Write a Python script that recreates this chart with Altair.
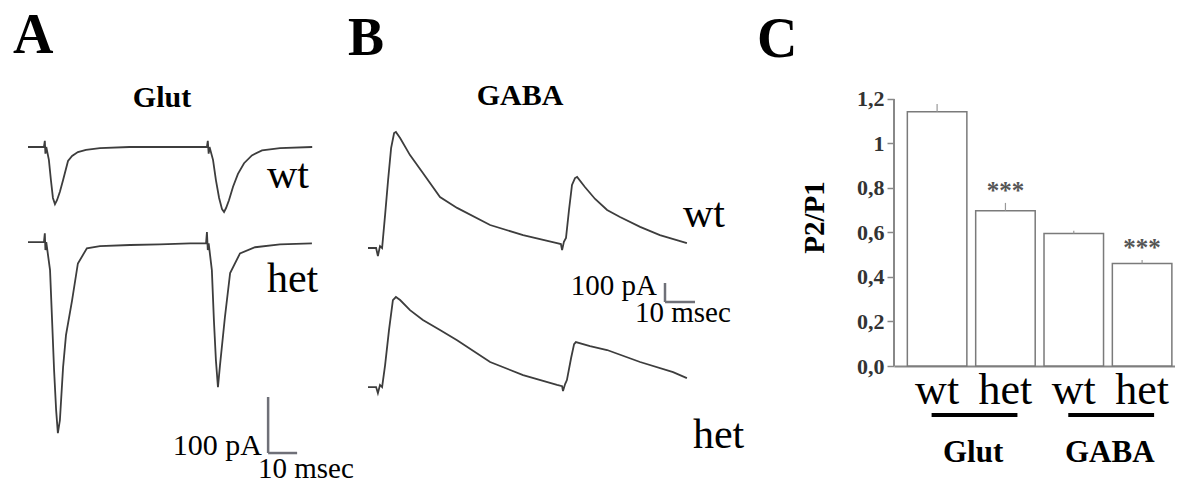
import altair as alt
import pandas as pd

SERIF = "Liberation Serif"
TRACE_COLOR = "#3d3d3d"
BAR_GREY = "#7a7a7a"

# ---------------- Panel A : Glut paired-pulse currents (time ms, current pA)
A_WT_T = [0, 5.5, 5.8, 6.0, 6.3, 7.2, 7.9, 8.6, 9.3, 10.0, 11.0, 12.1, 13.8, 15.2, 17.2,
          20.0, 24.8, 35.0, 45.0, 56.0, 61.7, 62.0, 62.3, 62.6, 63.8, 64.8, 65.9, 66.9,
          67.6, 68.3, 69.3, 70.7, 72.4, 74.5, 77.2, 80.7, 86.9, 98.0]
A_WT_I = [0, 0, 11, -12, 0, -23, -59, -91, -102, -95, -80, -59, -25, -16, -9,
          -5, -2, 0, 0, 0, 0, 11, -12, 0, -23, -59, -91, -111,
          -116, -109, -95, -71, -48, -29, -15, -6, -2, 0]
A_HET_T = [0, 5.5, 5.8, 6.0, 6.3, 7.6, 8.3, 9.0, 9.7, 10.3, 11.0, 12.1, 13.1, 15.2, 17.2,
           20.3, 24.8, 35.2, 45.5, 55.9, 61.4, 61.7, 62.0, 62.3, 63.4, 64.1, 64.8, 65.5,
           66.2, 67.9, 69.7, 73.1, 78.3, 86.9, 97.9]
A_HET_I = [0, 0, 16, -14, 0, -50, -139, -229, -300, -341, -318, -223, -166, -104, -38,
           -11, -7, -5, -4, -2, -2, 18, -14, -2, -50, -139, -211, -259,
           -220, -134, -55, -20, -9, -4, -2]

# ---------------- Panel B : GABA paired-pulse currents (time ms, current pA)
B_WT_T = [0, 2.7, 3.3, 4.0, 4.7, 5.7, 6.7, 7.7, 8.7, 9.3, 10.7, 14.0, 18.3, 24.0, 29.7,
          40.7, 51.7, 63.0, 64.3, 64.7, 65.3, 66.0, 67.0, 68.0, 69.0, 69.7, 72.3, 75.7,
          79.7, 84.0, 90.7, 97.3, 106.3]
B_WT_I = [0, 0, -42, 10, 0, 174, 358, 526, 605, 611, 579, 489, 395, 268, 211,
          121, 68, 26, 21, -11, 32, 53, 200, 332, 368, 374, 321, 258,
          200, 163, 111, 68, 26]
B_HET_T = [0, 2.7, 3.3, 4.0, 4.7, 5.7, 7.0, 8.3, 9.3, 10.7, 14.0, 18.3, 24.0, 29.7, 40.7,
           51.7, 63.0, 64.7, 65.0, 65.7, 66.3, 67.7, 68.7, 69.3, 74.0, 79.7, 90.7, 101.7,
           106.3]
B_HET_I = [0, 0, -32, 11, 0, 116, 300, 458, 474, 458, 405, 353, 300, 247, 132,
           63, 11, 5, -21, 16, 37, 153, 226, 237, 216, 195, 132, 79,
           47]

# ---------------- Panel C : paired-pulse ratio
C_COND = ["wt|Glut", "het|Glut", "wt|GABA", "het|GABA"]
C_VALUES = [1.143, 0.698, 0.596, 0.461]
C_SEM = [0.035, 0.035, 0.012, 0.015]
C_SIG = ["", "***", "", "***"]
C_GROUPS = ["Glut", "GABA"]
C_GROUP_START = ["wt|Glut", "wt|GABA"]
C_GROUP_END = ["het|Glut", "het|GABA"]
Y_TICKS = [0.0, 0.2, 0.4, 0.6, 0.8, 1.0, 1.2]

# scale-bar sizes
SB_MS = 10
SB_PA = 100


def traces_df(wt_t, wt_i, het_t, het_i):
    rows = []
    for k, (t, i) in enumerate(zip(wt_t, wt_i)):
        rows.append({"t": t, "i": i, "trace": "wt", "idx": k})
    for k, (t, i) in enumerate(zip(het_t, het_i)):
        rows.append({"t": t, "i": i, "trace": "het", "idx": k})
    return pd.DataFrame(rows)


def text_layer(label, t, v, X, Y, size, bold=False, align="left", color="black"):
    df = pd.DataFrame({"label": [label], "t": [t], "v": [v]})
    return alt.Chart(df).mark_text(
        font=SERIF, fontSize=size, fontWeight="bold" if bold else "normal",
        align=align, baseline="alphabetic", color=color
    ).encode(x=X, y=Y, text="label:N")


def trace_panel(df, offset, xdom, ydom, width, annotations, sb_corner):
    X = alt.X("t:Q", scale=alt.Scale(domain=xdom, nice=False, zero=False), axis=None)
    Y = alt.Y("v:Q", scale=alt.Scale(domain=ydom, nice=False, zero=False), axis=None)
    lines = alt.Chart(df).transform_calculate(
        v=f"datum.i + (datum.trace == 'het' ? {offset} : 0)"
    ).mark_line(color=TRACE_COLOR, strokeWidth=1.8).encode(
        x=X, y=Y, detail="trace:N", order="idx:Q"
    )
    t0, v0 = sb_corner
    sb = pd.DataFrame({"t": [t0, t0], "t2": [t0, t0 + SB_MS],
                       "v": [v0, v0], "v2": [v0 + SB_PA, v0]})
    bar = alt.Chart(sb).mark_rule(color="#6f7078", strokeWidth=2.5).encode(
        x=X, x2="t2:Q", y=Y, y2="v2:Q")
    layers = [lines, bar]
    for a in annotations:
        layers.append(text_layer(a[0], a[1], a[2], X, Y, **a[3]))
    return alt.layer(*layers).properties(width=width, height=485)


panelA = trace_panel(
    traces_df(A_WT_T, A_WT_I, A_HET_T, A_HET_I), -170,
    [-9.655, 107.586], [-603.6, 262.5], 340,
    [
        ("A", -5.17, 167.9, dict(size=56, bold=True)),
        ("Glut", 46.2, 71.4, dict(size=30, bold=True, align="center")),
        ("wt", 82.4, -73.2, dict(size=42)),
        ("het", 82.4, -259, dict(size=42)),
        ("100 pA", 80.7, -550, dict(size=30, align="right")),
        ("10 msec", 79.3, -591, dict(size=29)),
    ],
    (82.8, -546.5),
)

panelB = trace_panel(
    traces_df(B_WT_T, B_WT_I, B_HET_T, B_HET_I), -732,
    [-9.333, 175.333], [-1247.4, 1305.3], 554,
    [
        ("B", -6.67, 1015.8, dict(size=54, bold=True)),
        ("GABA", 50.7, 752.6, dict(size=30, bold=True, align="center")),
        ("wt", 105, 110.5, dict(size=42)),
        ("het", 108.3, -1052.6, dict(size=42)),
        ("100 pA", 96.3, -247.4, dict(size=29, align="right")),
        ("10 msec", 89, -389.5, dict(size=29)),
    ],
    (99, -284.2),
)

# ---------------- Panel C
c_df = pd.DataFrame({"cond": C_COND, "value": C_VALUES, "sem": C_SEM, "sig": C_SIG})
yscale = alt.Scale(domain=[0, 1.6449], nice=False, zero=False)
xscale = alt.Scale(domain=C_COND, paddingInner=0.129, paddingOuter=0.1205, align=0.81)

AX_X = alt.Axis(
    title=None, labelExpr="split(datum.label, '|')[0]", labelFont=SERIF,
    labelFontSize=44, labelColor="black", labelAngle=0, labelBaseline="alphabetic",
    labelPadding=37, ticks=False, domainColor="#888888", domainWidth=2,
    labelOverlap=False, labelBound=False, grid=False)
AX_Y = alt.Axis(
    values=Y_TICKS, domain=False, grid=False,
    labelExpr="datum.value == 1 ? '1' : replace(format(datum.value, '.1f'), '.', ',')",
    tickSize=7, tickColor="#888888", tickWidth=1.5,
    labelFont=SERIF, labelFontSize=22, labelFontWeight="bold", labelColor="#333333",
    labelPadding=3, title="P2/P1", titleFont=SERIF, titleFontSize=29,
    titleFontWeight="bold", titleColor="black", titleAngle=270, titleX=-71, titleY=217,
    titleAlign="center", titleBaseline="alphabetic")


def xc(field):
    return alt.X(field, sort=C_COND, scale=xscale, axis=AX_X)


def yc(field):
    return alt.Y(field, scale=yscale, axis=AX_Y)


bars = alt.Chart(c_df).mark_bar(fill="white", stroke=BAR_GREY, strokeWidth=1.5).encode(
    x=xc("cond:N"), y=yc("value:Q"), y2=alt.datum(0))
errs = alt.Chart(c_df).transform_calculate(tip="datum.value + datum.sem").mark_rule(
    color="#999999", strokeWidth=1.2).encode(
    x=xc("cond:N"), y=yc("value:Q"), y2="tip:Q")
stars = alt.Chart(c_df).transform_calculate(tip="datum.value + datum.sem").mark_text(
    font=SERIF, fontSize=25, fontWeight="bold", color="#555555", baseline="alphabetic",
    dy=-4).encode(x=xc("cond:N"), y=yc("tip:Q"), text="sig:N")
yline = alt.Chart(pd.DataFrame({"value": [Y_TICKS[0]], "hi": [Y_TICKS[-1]]})).mark_rule(
    color="#888888", strokeWidth=2).encode(
    x=alt.value(0), y=yc("value:Q"), y2="hi:Q")
grp = pd.DataFrame({"group": C_GROUPS, "cond": C_GROUP_START, "end": C_GROUP_END,
                    "uy": [-0.220, -0.220], "value": [-0.431, -0.431]})
underline = alt.Chart(grp).mark_rule(color="black", strokeWidth=4, xOffset=-5.5,
                                     x2Offset=12).encode(
    x=xc("cond:N"), x2="end:N", y=yc("uy:Q"))
glabels = alt.Chart(grp).mark_text(font=SERIF, fontSize=31, fontWeight="bold",
                                   color="black", baseline="alphabetic", dx=36).encode(
    x=xc("cond:N"), y=yc("value:Q"), text="group:N")
letterC = alt.Chart(pd.DataFrame({"label": ["C"], "value": [1.389]})).mark_text(
    font=SERIF, fontSize=56, fontWeight="bold", color="black", align="left",
    baseline="alphabetic").encode(
    x=alt.value(-137), y=yc("value:Q"), text="label:N")

panelC = alt.layer(bars, errs, stars, yline, underline, glabels, letterC).properties(
    width=281, height=366)

chart = alt.hconcat(panelA, panelB, panelC, spacing=0, bounds="flush").configure_view(
    stroke=None).properties(padding=0, background="white")

chart.save("out.html", embed_options={"renderer": "svg", "actions": False})
